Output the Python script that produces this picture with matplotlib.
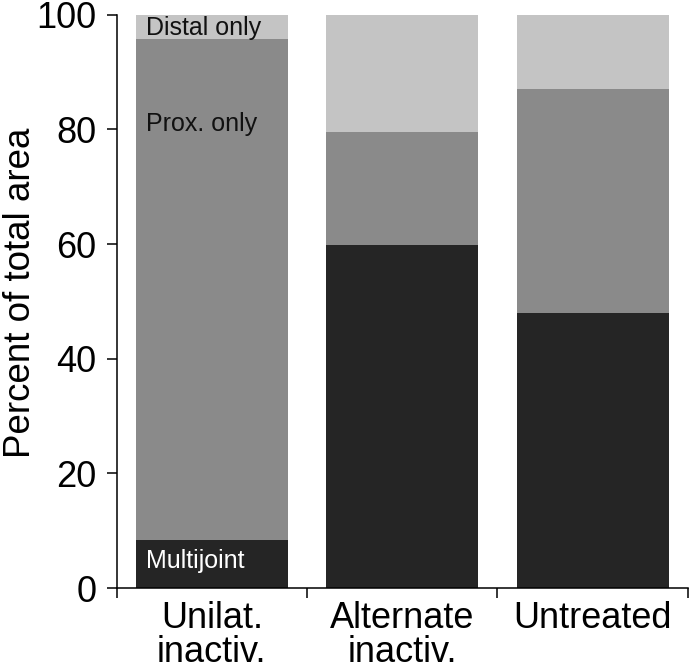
import numpy as np
import matplotlib
matplotlib.use("Agg")
import matplotlib.pyplot as plt

plt.rcParams['font.family'] = ['Liberation Sans', 'DejaVu Sans']

groups = ["Unilat.\ninactiv.", "Alternate\ninactiv.", "Untreated"]
multijoint = [8.3, 59.8, 47.9]
prox_only = [87.5, 19.8, 39.2]
distal_only = [4.2, 20.4, 12.9]

col_multi = "#252525"
col_prox = "#8a8a8a"
col_distal = "#c4c4c4"

fig = plt.figure(figsize=(6.9, 6.69), dpi=100)
ax = fig.add_axes([0.169, 0.121, 0.828, 0.857])

x = np.arange(len(groups)) + 0.5
multi = np.array(multijoint)
prox = np.array(prox_only)
dist = np.array(distal_only)

ax.bar(x, multi, width=0.8, color=col_multi)
ax.bar(x, prox, width=0.8, bottom=multi, color=col_prox)
ax.bar(x, dist, width=0.8, bottom=multi + prox, color=col_distal)

ax.set_xlim(0, 3)
ax.set_ylim(0, 100)

# boundaries as ticks, names on zero-length minor ticks
ax.set_xticks([0, 1, 2, 3])
ax.set_xticklabels([])
ax.set_xticks(x, minor=True)
ax.set_xticklabels(groups, minor=True, fontsize=26, linespacing=0.97)
ax.tick_params(axis='x', which='minor', length=0, pad=9)
ax.tick_params(axis='x', which='major', length=7, width=1.1)

ax.set_yticks([0, 20, 40, 60, 80, 100])
ax.tick_params(axis='y', labelsize=26, length=7, width=1.1, pad=7.5)
ax.set_ylabel("Percent of total area", fontsize=26.5)
ax.yaxis.set_label_coords(-0.137, 0.515)

for s in ['top', 'right']:
    ax.spines[s].set_visible(False)
for s in ['left', 'bottom']:
    ax.spines[s].set_linewidth(1.1)

ax.text(0.154, 97.6, "Distal only", fontsize=18, va='center', ha='left', color='#111111')
ax.text(0.154, 81.0, "Prox. only", fontsize=18, va='center', ha='left', color='#111111')
ax.text(0.154, 4.7, "Multijoint", fontsize=18, va='center', ha='left', color='white')

fig.savefig("out.png", dpi=100)
